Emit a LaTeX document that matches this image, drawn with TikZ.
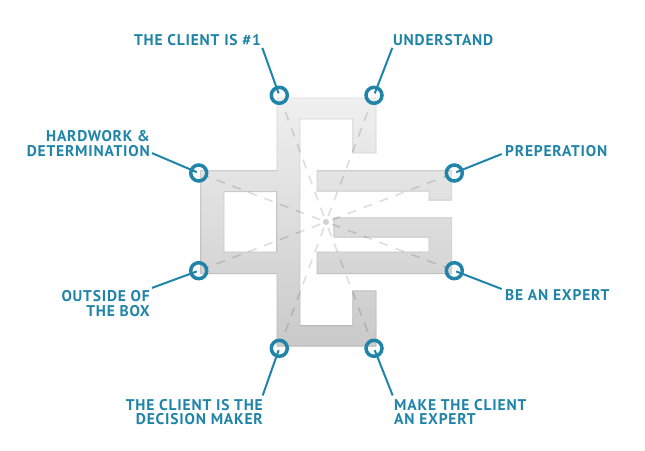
\documentclass[tikz,border=0pt]{standalone}
\usepackage{fontspec}
\setmainfont[LetterSpace=5.2]{PT Sans}
\usetikzlibrary{positioning}
\definecolor{tealblue}{HTML}{1F84A8}

\def\logoshape{(276.7,97.7) -- (376.7,97.7) -- (376.7,153.3) -- (352.3,153.3) -- (352.3,119.3) -- (300.3,119.3) -- (300.3,325) -- (352.3,325) -- (352.3,290.3) -- (376.7,290.3) -- (376.7,346.7) -- (276.7,346.7) -- (276.7,274) -- (200,274) -- (200,170) -- (276.7,170) -- cycle
(224.3,192) rectangle (276,251.7)
(316.7,170) -- (452.7,170) -- (452.7,200.7) -- (428.7,200.7) -- (428.7,191.7) -- (316.7,191.7) -- cycle
(333.3,217.3) -- (452.7,217.3) -- (452.7,274) -- (316.7,274) -- (316.7,251.7) -- (428.7,251.7) -- (428.7,237.7) -- (333.3,237.7) -- cycle}

\begin{document}
\begin{tikzpicture}[
						x=1pt, y=-1pt,
						ring/.style = {draw=tealblue, circle, line width=3.5pt, minimum size=16pt, inner sep=0pt},
						hub/.style = {fill=black, fill opacity=0.18, circle, minimum size=6pt, inner sep=0pt},
						spoke/.style = {draw=black, draw opacity=0.13, line width=1.6pt, dash pattern=on 9pt off 8pt, shorten <=3pt},
						leader/.style = {draw=tealblue, line width=2pt, shorten >=2pt},
						tag/.style = {text=tealblue, inner sep=0pt, font=\fontsize{15.5}{14.5}\selectfont\bfseries}
					]
\useasboundingbox (0,0) rectangle (645,450);

\begin{scope}[even odd rule]
\clip \logoshape;
\shade[top color=black!6, bottom color=black!21] (200,97) rectangle (453,347);
\draw[black, opacity=0.03, line width=3pt] \logoshape;
\draw[black, opacity=0.07, line width=1.3pt] \logoshape;
\end{scope}

\node[hub] (center) at (326,222) {};

\node[ring] (client) at (279.3,95.3) {};
\node[ring] (understand) [right of=client, node distance=94.7pt] {};
\node[ring] (hardwork) at (198.7,173) {};
\node[ring] (preperation) [right of=hardwork, node distance=255.6pt] {};
\node[ring] (outside) [below of=hardwork, node distance=97.7pt] {};
\node[ring] (expert) [below of=preperation, node distance=97.7pt] {};
\node[ring] (decision) [below of=client, node distance=253pt] {};
\node[ring] (makeexpert) [below of=understand, node distance=253pt] {};

\node[tag, anchor=east] (tclient) at (261,40.5) {THE CLIENT IS \#1};
\node[tag, anchor=west] (tunderstand) at (393,40.5) {UNDERSTAND};
\node[tag, anchor=east, align=right] (thardwork) at (150,143.5) {HARDWORK \&\\DETERMINATION};
\node[tag, anchor=west] (tpreperation) at (505,151.5) {PREPERATION};
\node[tag, anchor=east, align=right] (toutside) at (150,303.5) {OUTSIDE OF\\THE BOX};
\node[tag, anchor=west] (texpert) at (505,295.5) {BE AN EXPERT};
\node[tag, anchor=east, align=right] (tdecision) at (263,412) {THE CLIENT IS THE\\DECISION MAKER};
\node[tag, anchor=west, align=left] (tmakeexpert) at (394,412) {MAKE THE CLIENT\\AN EXPERT};

\foreach \n in {client, understand, hardwork, preperation, outside, expert, decision, makeexpert}
	\draw[spoke] (center) -- (\n);

\draw[leader] ([shift={(1.3pt,-1.5pt)}]tclient.south east) -- (client.center);
\draw[leader] ([shift={(-0.7pt,-1.5pt)}]tunderstand.south west) -- (understand.center);
\draw[leader] ([shift={(2pt,3.5pt)}]thardwork.south east) -- (hardwork.center);
\draw[leader] ([shift={(-3.3pt,-2.5pt)}]tpreperation.west) -- (preperation.center);
\draw[leader] ([shift={(2pt,2.5pt)}]toutside.north east) -- (outside.center);
\draw[leader] ([shift={(-3.3pt,6.5pt)}]texpert.west) -- (expert.center);
\draw[leader] ([shift={(-0.3pt,3.5pt)}]tdecision.north east) -- (decision.center);
\draw[leader] ([shift={(-1.3pt,3.5pt)}]tmakeexpert.north west) -- (makeexpert.center);
\end{tikzpicture}
\end{document}
